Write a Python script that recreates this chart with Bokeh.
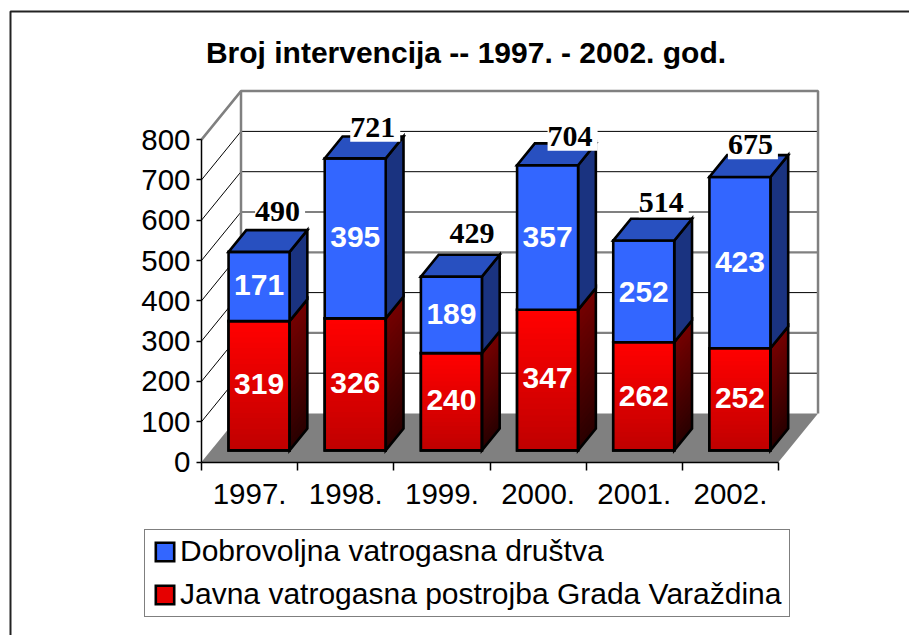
from bokeh.plotting import figure
from bokeh.models import (ColumnDataSource, FixedTicker, Legend, LegendItem, LinearAxis, Range1d)
from bokeh.core.properties import value
from bokeh.embed import file_html
from bokeh.resources import INLINE

TITLE = "Broj intervencija -- 1997. - 2002. god."
years = ["1997.", "1998.", "1999.", "2000.", "2001.", "2002."]
# the numbers printed on the bars
javna = [319, 326, 240, 347, 262, 252]
dobrovoljna = [171, 395, 189, 357, 252, 423]
totals = [490, 721, 429, 704, 514, 675]
# the bar heights as drawn (the 2001 bar does not quite follow its label)
javna_drawn = [319, 326, 240, 347, 267, 252]
dobrovoljna_drawn = [171, 395, 189, 357, 251, 423]
y_ticks = [0, 100, 200, 300, 400, 500, 600, 700, 800]
grid_heavy = [200, 400, 500]
name_blue = "Dobrovoljna vatrogasna društva"
name_red = "Javna vatrogasna postrojba Grada Varaždina"

# hand placement of the totals in the source chart (pixels from the bar's top face)
total_dx = [21, 20, 23, 25, 20, 13]
total_dy = [39, 30, 41, 28, 38, 31]

# page geometry
W, H = 909, 635
ORIGIN_X, ORIGIN_Y = 201.0, 461.5   # where category 0 / value 0 fall inside the figure
PX_X = 96.17      # pixels per category
PX_Y = 0.403      # pixels per value unit
BAR_SCALE = 1.005  # bars are drawn a touch taller than the wall scale
WALL_DX, WALL_DY = 39.5, 48.5
BAR_D0, BAR_D1 = 0.24, 0.69
HALF = 30.5 / PX_X


def sx(px):
    return (px - ORIGIN_X) / PX_X


def sy(py):
    return (ORIGIN_Y - py) / PX_Y


def proj(x, v, d):
    return x + d * WALL_DX / PX_X, v + d * WALL_DY / PX_Y


def lerp(c0, c1, t):
    return "#%02x%02x%02x" % tuple(round(a + (b - a) * t) for a, b in zip(c0, c1))


p = figure(width=W, height=H, output_backend="svg", toolbar_location=None,
           x_range=Range1d(sx(0), sx(W)), y_range=Range1d(sy(H), sy(0)),
           min_border=0, x_axis_type=None, y_axis_type=None, outline_line_color=None,
           background_fill_color="white", border_fill_color="white")
p.grid.visible = False

# picture border: only left and top edges are on the page
p.line([sx(10), sx(10), sx(W)], [sy(H), sy(11), sy(11)], line_color="#222222", line_width=2)

# title
p.text(x=[sx(465.5)], y=[sy(52)], text=[TITLE], text_font=value("Liberation Sans"), text_font_style="bold",
       text_font_size="30px", text_color="black", text_align="center", text_baseline="middle")

# axes
ya = LinearAxis(ticker=FixedTicker(ticks=y_ticks), fixed_location=0, bounds=(0, 800))
ya.axis_line_color = "black"
ya.axis_line_width = 1.5
ya.major_tick_in = 0
ya.major_tick_out = 5
ya.major_tick_line_color = "black"
ya.major_tick_line_width = 1.5
ya.minor_tick_line_color = None
ya.major_label_text_font = "Liberation Sans"
ya.major_label_text_font_size = "29.5px"
ya.major_label_text_color = "black"
ya.major_label_standoff = 6
p.add_layout(ya, "left")

centres = [i + 0.5 for i in range(len(years))]
xa = LinearAxis(ticker=FixedTicker(ticks=centres, minor_ticks=list(range(len(years) + 1))),
                fixed_location=0, bounds=(0, len(years)))
xa.major_label_overrides = {c: y for c, y in zip(centres, years)}
xa.axis_line_color = "black"
xa.axis_line_width = 1.5
xa.major_tick_line_color = None
xa.major_tick_in = 0
xa.major_tick_out = 0
xa.minor_tick_in = 0
xa.minor_tick_out = 8
xa.minor_tick_line_color = "black"
xa.minor_tick_line_width = 1.5
xa.major_label_text_font = "Liberation Sans"
xa.major_label_text_font_size = "29.5px"
xa.major_label_text_color = "black"
xa.major_label_standoff = 14
p.add_layout(xa, "below")

# floor
n = len(years)
fx, fy = zip(proj(0, 0, 0), proj(n, 0, 0), proj(n, 0, 1), proj(0, 0, 1))
p.patch(list(fx), list(fy), fill_color="#808080", line_color=None)

# grid lines on side wall and back wall
for v in y_ticks[1:-1]:
    heavy = v in grid_heavy
    a, b, c = proj(0, v, 0), proj(0, v, 1), proj(n, v, 1)
    p.line([a[0], b[0]], [a[1], b[1]], line_color="black", line_width=1)
    p.line([b[0], c[0]], [b[1], c[1]], line_color="#808080" if heavy else "black",
           line_width=2.2 if heavy else 1)

# wall frame
a, b, c, d, e = proj(0, 800, 0), proj(0, 800, 1), proj(n, 800, 1), proj(n, 0, 1), proj(0, 0, 1)
p.line([a[0], b[0], c[0], d[0]], [a[1], b[1], c[1], d[1]], line_color="#808080", line_width=2.5)
p.line([b[0], e[0]], [b[1], e[1]], line_color="#808080", line_width=2.5)

# bars
STRIPS = 24
RED_TOP, RED_BOT = (255, 0, 0), (190, 0, 0)
SIDE_TOP, SIDE_BOT = (115, 0, 0), (40, 0, 0)
BLUE, BLUE_TOP, BLUE_SIDE = "#3366ff", "#2850c0", "#1a3380"
OUT = dict(line_color="black", line_width=2.6, line_join="miter")

red_base = None
blue_front = None
for i in range(n):
    x0, base = proj(i + 0.5 - HALF, 0, BAR_D0)
    x1, _ = proj(i + 0.5 + HALF, 0, BAR_D0)
    ddx = (BAR_D1 - BAR_D0) * WALL_DX / PX_X
    ddy = (BAR_D1 - BAR_D0) * WALL_DY / PX_Y
    r = javna_drawn[i] * BAR_SCALE
    t = (javna_drawn[i] + dobrovoljna_drawn[i]) * BAR_SCALE

    # red side and front, gradient painted from the top downwards
    xs_, ys_, cs_ = [], [], []
    fl, fr, ft, fb, fc = [], [], [], [], []
    for k in range(STRIPS):
        f = k / STRIPS
        top = base + r * (1 - f)
        xs_.append([x1, x1 + ddx, x1 + ddx, x1])
        ys_.append([top, top + ddy, base + ddy, base])
        cs_.append(lerp(SIDE_TOP, SIDE_BOT, f))
        fl.append(x0); fr.append(x1); ft.append(top); fb.append(base)
        fc.append(lerp(RED_TOP, RED_BOT, f))
    p.patches(xs_, ys_, fill_color=cs_, line_color=None)
    rb = p.quad(left=[x0], right=[x1], top=[base + r], bottom=[base], fill_color="#e60000", **OUT)
    if red_base is None:
        red_base = rb
    p.quad(left=fl, right=fr, top=ft, bottom=fb, fill_color=fc, line_color=None)
    p.patch([x1, x1 + ddx, x1 + ddx, x1], [base, base + ddy, base + r + ddy, base + r],
            fill_color=None, **OUT)
    p.quad(left=[x0], right=[x1], top=[base + r], bottom=[base], fill_color=None, **OUT)

    # blue segment
    p.patch([x1, x1 + ddx, x1 + ddx, x1], [base + r, base + r + ddy, base + t + ddy, base + t],
            fill_color=BLUE_SIDE, **OUT)
    bf = p.quad(left=[x0], right=[x1], top=[base + t], bottom=[base + r], fill_color=BLUE, **OUT)
    if blue_front is None:
        blue_front = bf
    p.patch([x0, x1, x1 + ddx, x0 + ddx], [base + t, base + t, base + t + ddy, base + t + ddy],
            fill_color=BLUE_TOP, **OUT)

# value labels
lx, ly, lt = [], [], []
tx, ty, ttx, ox, oy = [], [], [], [], []
for i in range(n):
    cx, base = proj(i + 0.5, 0, BAR_D0)
    lx += [cx, cx]
    ly += [base + javna[i] / 2, base + javna[i] + dobrovoljna[i] / 2]
    lt += [str(javna[i]), str(dobrovoljna[i])]
    tx.append(cx)
    ty.append(base + totals[i])
    ttx.append(str(totals[i]))
    ox.append(total_dx[i])
    oy.append(-total_dy[i])

p.text(x=lx, y=ly, text=lt, y_offset=-2, text_font=value("Liberation Sans"), text_font_style="bold",
       text_font_size="30px", text_color="white", text_align="center", text_baseline="middle")
src = ColumnDataSource(dict(x=tx, y=ty, t=ttx, ox=ox, oy=oy))
p.text(x="x", y="y", text="t", x_offset="ox", y_offset="oy", source=src,
       text_font=value("Liberation Serif"), text_font_style="bold", text_font_size="30px",
       text_color="black", text_align="center", text_baseline="middle",
       background_fill_color="white", padding=[0, 5, 0, 5])

# legend
legend = Legend(items=[LegendItem(label=name_blue, renderers=[blue_front]),
                       LegendItem(label=name_red, renderers=[red_base])],
                location=(144, 18), orientation="vertical",
                label_text_font="Liberation Sans", label_text_font_size="30px",
                label_text_color="black", glyph_width=23, glyph_height=23, label_standoff=4,
                spacing=9, padding=dict(left=8, right=8, top=4, bottom=5), margin=0,
                border_line_color="black", border_line_width=1.2,
                background_fill_color="white", background_fill_alpha=1)
p.add_layout(legend)

# gradient over the red legend swatch
sw_n = 12
sw_top, sw_bot = 586.5, 603.0
sw_l, sw_r = [], []
sw_t, sw_b, sw_c = [], [], []
for k in range(sw_n):
    f = k / sw_n
    sw_l.append(sx(155.5)); sw_r.append(sx(171.0))
    sw_t.append(sy(sw_top + (sw_bot - sw_top) * f)); sw_b.append(sy(sw_bot))
    sw_c.append(lerp(RED_TOP, RED_BOT, f))
p.quad(left=sw_l, right=sw_r, top=sw_t, bottom=sw_b, fill_color=sw_c, line_color=None, level="overlay")

open("out.html", "w").write(file_html(p, INLINE))
